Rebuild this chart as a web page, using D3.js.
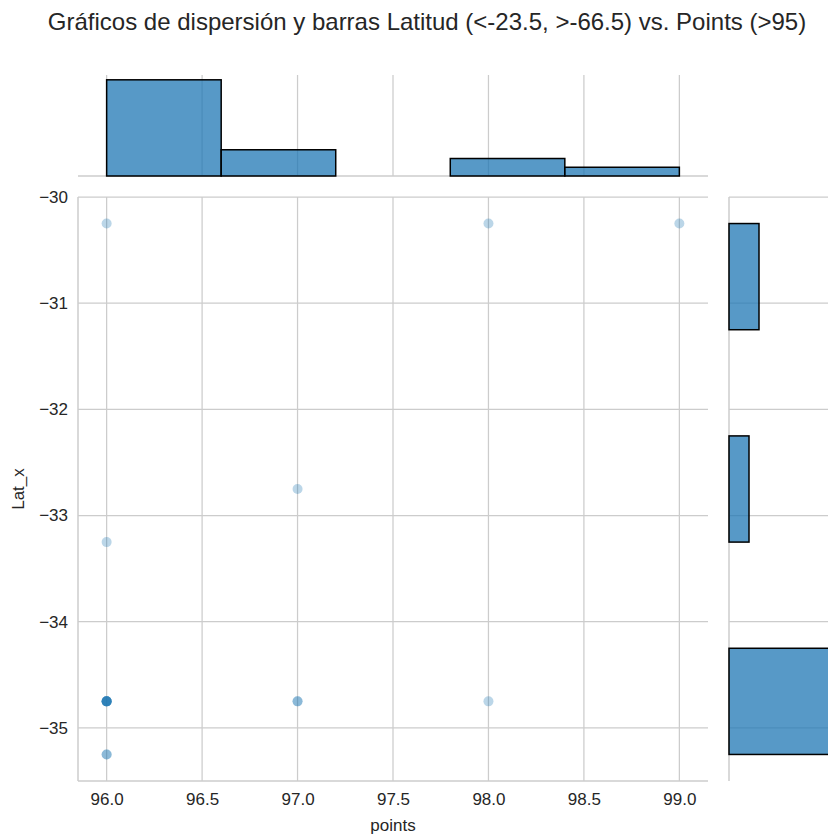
<!DOCTYPE html>
<html>
<head>
<meta charset="utf-8">
<script src="https://cdn.jsdelivr.net/npm/d3@7"></script>
<style>
  html, body { margin: 0; padding: 0; background: #fff; }
  svg text { font-family: "Liberation Sans", Arial, sans-serif; fill: #262626; }
</style>
</head>
<body>
<svg id="chart" width="828" height="837"></svg>
<script>
// Observations: points score vs. latitude (repeated rows overlap)
const pointsVals = [96, 98, 99, 97, 96, 96, 96, 96, 96, 96, 96, 96, 97, 97, 98, 96, 96];
const latVals = [-30.25, -30.25, -30.25, -32.75, -33.25,
  -34.75, -34.75, -34.75, -34.75, -34.75, -34.75, -34.75,
  -34.75, -34.75, -34.75, -35.25, -35.25];

const xTicks = [96.0, 96.5, 97.0, 97.5, 98.0, 98.5, 99.0];
const yTicks = [-30, -31, -32, -33, -34, -35];
const xBinCount = 5;
const yBinCount = 5;

const titleText = "Gráficos de dispersión y barras Latitud (<-23.5, >-66.5) vs. Points (>95)";

const svg = d3.select("#chart");
const grid = "#cccccc";
const blue = "#1f77b4";
const tickFont = 17;
const labelFont = 17;

// main panel
const M = { left: 78, right: 708, top: 197, bottom: 781 };
const xMin = d3.min(pointsVals), xMax = d3.max(pointsVals);
const yMin = d3.min(latVals), yMax = d3.max(latVals);
const xPad = (xMax - xMin) * 0.05, yPad = (yMax - yMin) * 0.05;
const x = d3.scaleLinear().domain([xMin - xPad, xMax + xPad]).range([M.left, M.right]);
const y = d3.scaleLinear().domain([yMin - yPad, yMax + yPad]).range([M.bottom, M.top]);

// histogram bins
const xStep = (xMax - xMin) / xBinCount;
const xThresholds = d3.range(1, xBinCount).map(i => xMin + i * xStep);
const xBins = d3.bin().domain([xMin, xMax]).thresholds(xThresholds)(pointsVals);
const yStep = (yMax - yMin) / yBinCount;
const yThresholds = d3.range(1, yBinCount).map(i => yMin + i * yStep);
const yBins = d3.bin().domain([yMin, yMax]).thresholds(yThresholds)(latVals);

// top marginal
const T = { top: 75, bottom: 176 };
const xCountMax = d3.max(xBins, b => b.length);
const hy = d3.scaleLinear().domain([0, xCountMax * 1.05]).range([T.bottom, T.top]);

// right marginal
const R = { left: 729, right: 855 };
const yCountMax = d3.max(yBins, b => b.length);
const hx = d3.scaleLinear().domain([0, yCountMax * 1.05]).range([R.left, R.right]);

const fmt1 = d3.format(".1f");
const fmtY = d => d3.format("d")(d).replace("-", "\u2212");

// ---- main grid
const gMain = svg.append("g");
gMain.selectAll("line.vx").data(xTicks).join("line")
  .attr("x1", d => x(d)).attr("x2", d => x(d))
  .attr("y1", M.top).attr("y2", M.bottom)
  .attr("stroke", grid).attr("stroke-width", 1.25);
gMain.selectAll("line.hy").data(yTicks).join("line")
  .attr("x1", M.left).attr("x2", M.right)
  .attr("y1", d => y(d)).attr("y2", d => y(d))
  .attr("stroke", grid).attr("stroke-width", 1.25);
// spines (left and bottom)
gMain.append("line").attr("x1", M.left).attr("x2", M.left).attr("y1", M.top).attr("y2", M.bottom)
  .attr("stroke", grid).attr("stroke-width", 1.5);
gMain.append("line").attr("x1", M.left).attr("x2", M.right).attr("y1", M.bottom).attr("y2", M.bottom)
  .attr("stroke", grid).attr("stroke-width", 1.5);

// scatter points
gMain.selectAll("circle").data(pointsVals.map((p, i) => [p, latVals[i]])).join("circle")
  .attr("cx", d => x(d[0])).attr("cy", d => y(d[1])).attr("r", 5)
  .attr("fill", blue).attr("fill-opacity", 0.3);

// axis tick labels
const xAxis = d3.axisBottom(x).tickValues(xTicks).tickFormat(fmt1).tickSize(0).tickPadding(12);
const gx = svg.append("g").attr("transform", `translate(0,${M.bottom})`).call(xAxis);
gx.select(".domain").remove();
gx.selectAll("text").attr("font-size", tickFont).attr("fill", "#262626");

const yAxis = d3.axisLeft(y).tickValues(yTicks).tickFormat(fmtY).tickSize(0).tickPadding(10);
const gy = svg.append("g").attr("transform", `translate(${M.left},0)`).call(yAxis);
gy.select(".domain").remove();
gy.selectAll("text").attr("font-size", tickFont).attr("fill", "#262626");

svg.append("text").attr("x", (M.left + M.right) / 2).attr("y", 831)
  .attr("text-anchor", "middle").attr("font-size", labelFont).text("points");
svg.append("text").attr("transform", `translate(24,${(M.top + M.bottom) / 2}) rotate(-90)`)
  .attr("text-anchor", "middle").attr("font-size", labelFont).text("Lat_x");

// ---- top marginal histogram
const gTop = svg.append("g");
gTop.selectAll("line").data(xTicks).join("line")
  .attr("x1", d => x(d)).attr("x2", d => x(d))
  .attr("y1", T.top).attr("y2", T.bottom)
  .attr("stroke", grid).attr("stroke-width", 1.25);
gTop.append("line").attr("x1", M.left).attr("x2", M.right).attr("y1", T.bottom).attr("y2", T.bottom)
  .attr("stroke", grid).attr("stroke-width", 1.5);
gTop.selectAll("rect").data(xBins.filter(b => b.length > 0)).join("rect")
  .attr("x", d => x(d.x0)).attr("width", d => x(d.x1) - x(d.x0))
  .attr("y", d => hy(d.length)).attr("height", d => T.bottom - hy(d.length))
  .attr("fill", blue).attr("fill-opacity", 0.75)
  .attr("stroke", "#000").attr("stroke-width", 1.5);

// ---- right marginal histogram
const gRight = svg.append("g");
gRight.selectAll("line").data(yTicks).join("line")
  .attr("x1", R.left).attr("x2", 828)
  .attr("y1", d => y(d)).attr("y2", d => y(d))
  .attr("stroke", grid).attr("stroke-width", 1.25);
gRight.append("line").attr("x1", R.left).attr("x2", R.left).attr("y1", M.top).attr("y2", M.bottom)
  .attr("stroke", grid).attr("stroke-width", 1.5);
gRight.selectAll("rect").data(yBins.filter(b => b.length > 0)).join("rect")
  .attr("x", R.left).attr("width", d => hx(d.length) - R.left)
  .attr("y", d => y(d.x1)).attr("height", d => y(d.x0) - y(d.x1))
  .attr("fill", blue).attr("fill-opacity", 0.75)
  .attr("stroke", "#000").attr("stroke-width", 1.5);

// title
svg.append("text").attr("x", 427).attr("y", 30).attr("text-anchor", "middle")
  .attr("font-size", 24).text(titleText);
</script>
</body>
</html>
